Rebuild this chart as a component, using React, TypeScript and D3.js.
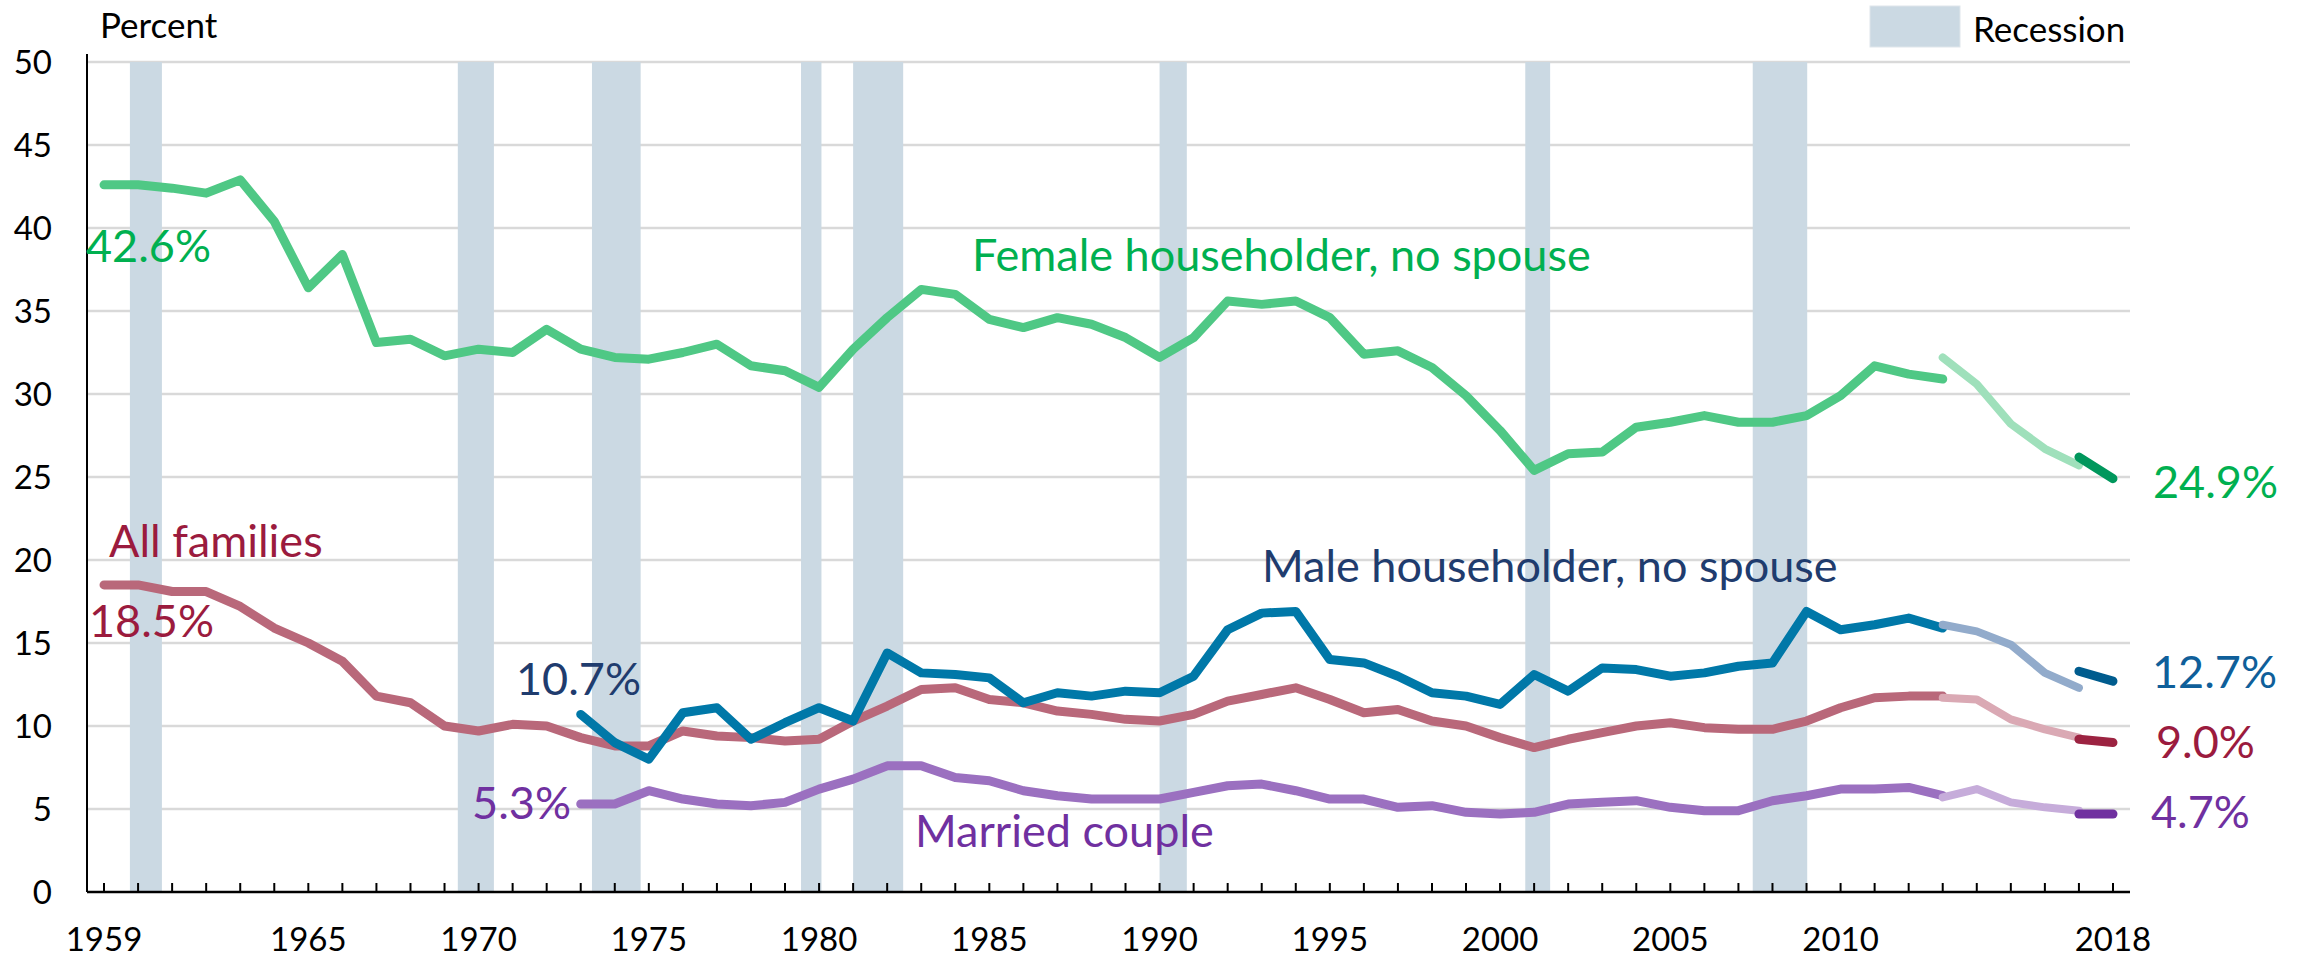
import React from 'react';
import * as d3 from 'd3';

// Years on the category axis
const years = [
    1959, 1960, 1961, 1962, 1963, 1964, 1965, 1966, 1967, 1968,
    1969, 1970, 1971, 1972, 1973, 1974, 1975, 1976, 1977, 1978,
    1979, 1980, 1981, 1982, 1983, 1984, 1985, 1986, 1987, 1988,
    1989, 1990, 1991, 1992, 1993, 1994, 1995, 1996, 1997, 1998,
    1999, 2000, 2001, 2002, 2003, 2004, 2005, 2006, 2007, 2008,
    2009, 2010, 2011, 2012, 2013, 2014, 2015, 2016, 2017, 2018,
];
const yearLabels = [1959, 1965, 1970, 1975, 1980, 1985, 1990, 1995, 2000, 2005, 2010, 2018];
const yTicks = [0, 5, 10, 15, 20, 25, 30, 35, 40, 45, 50];

const yearsFull = years.slice(0, 55);   // 1959-2013
const yearsSub = years.slice(14, 55);   // 1973-2013
const yearsBridge = [2013, 2014, 2015, 2016, 2017];
const yearsLatest = [2017, 2018];

// Percent in poverty
const femaleMain = [
    42.6, 42.6, 42.4, 42.1, 42.9, 40.4, 36.4, 38.4, 33.1, 33.3,
    32.3, 32.7, 32.5, 33.9, 32.7, 32.2, 32.1, 32.5, 33.0, 31.7,
    31.4, 30.4, 32.7, 34.6, 36.3, 36.0, 34.5, 34.0, 34.6, 34.2,
    33.4, 32.2, 33.4, 35.6, 35.4, 35.6, 34.6, 32.4, 32.6, 31.6,
    29.9, 27.8, 25.4, 26.4, 26.5, 28.0, 28.3, 28.7, 28.3, 28.3,
    28.7, 29.9, 31.7, 31.2, 30.9,
];
const femaleBridge = [32.2, 30.6, 28.2, 26.7, 25.7];
const femaleLatest = [26.2, 24.9];

const allMain = [
    18.5, 18.5, 18.1, 18.1, 17.2, 15.9, 15.0, 13.9, 11.8, 11.4,
    10.0, 9.7, 10.1, 10.0, 9.3, 8.8, 8.8, 9.7, 9.4, 9.3,
    9.1, 9.2, 10.3, 11.2, 12.2, 12.3, 11.6, 11.4, 10.9, 10.7,
    10.4, 10.3, 10.7, 11.5, 11.9, 12.3, 11.6, 10.8, 11.0, 10.3,
    10.0, 9.3, 8.7, 9.2, 9.6, 10.0, 10.2, 9.9, 9.8, 9.8,
    10.3, 11.1, 11.7, 11.8, 11.8,
];
const allBridge = [11.7, 11.6, 10.4, 9.8, 9.3];
const allLatest = [9.2, 9.0];

const maleMain = [
    10.7, 9.0, 8.0, 10.8, 11.1, 9.2, 10.2, 11.1, 10.3, 14.4,
    13.2, 13.1, 12.9, 11.4, 12.0, 11.8, 12.1, 12.0, 13.0, 15.8,
    16.8, 16.9, 14.0, 13.8, 13.0, 12.0, 11.8, 11.3, 13.1, 12.1,
    13.5, 13.4, 13.0, 13.2, 13.6, 13.8, 16.9, 15.8, 16.1, 16.5,
    15.9,
];
const maleBridge = [16.1, 15.7, 14.9, 13.2, 12.3];
const maleLatest = [13.3, 12.7];

const marriedMain = [
    5.3, 5.3, 6.1, 5.6, 5.3, 5.2, 5.4, 6.2, 6.8, 7.6,
    7.6, 6.9, 6.7, 6.1, 5.8, 5.6, 5.6, 5.6, 6.0, 6.4,
    6.5, 6.1, 5.6, 5.6, 5.1, 5.2, 4.8, 4.7, 4.8, 5.3,
    5.4, 5.5, 5.1, 4.9, 4.9, 5.5, 5.8, 6.2, 6.2, 6.3,
    5.8,
];
const marriedBridge = [5.7, 6.2, 5.4, 5.1, 4.9];
const marriedLatest = [4.7, 4.7];

// Recessions as [start, end] in axis years
const recessionStart = [1959.76, 1969.39, 1973.33, 1979.47, 1981.0, 1990.0, 2000.74, 2007.42];
const recessionEnd = [1960.7, 1970.45, 1974.76, 1980.07, 1982.47, 1990.8, 2001.47, 2009.02];

const FONT = "Lato, 'Open Sans', sans-serif";

const series = [
    { key: "all", x: yearsFull, main: allMain, bridge: allBridge, latest: allLatest, colors: ["#b9687a", "#daa9b4", "#9c2341"] },
    { key: "married", x: yearsSub, main: marriedMain, bridge: marriedBridge, latest: marriedLatest, colors: ["#9b70c0", "#c6acda", "#7030a0"] },
    { key: "male", x: yearsSub, main: maleMain, bridge: maleBridge, latest: maleLatest, colors: ["#0078a8", "#92abcb", "#005c8e"] },
    { key: "female", x: yearsFull, main: femaleMain, bridge: femaleBridge, latest: femaleLatest, colors: ["#4fc885", "#9fe0bb", "#00975c"] },
];

export default function App() {
    const width = 2305;
    const height = 959;

    const x = d3.scaleLinear().domain([1958.5, 2018.5]).range([87, 2130]);
    const y = d3.scaleLinear().domain([0, 50]).range([892, 62]);

    const line = d3.line<[number, number]>()
        .x(d => x(d[0]))
        .y(d => y(d[1]));

    const path = (xs: number[], vs: number[]) => line(xs.map((yr, i) => [yr, vs[i]] as [number, number])) || "";

    const [x0, x1] = x.range();

    return (
        <svg width={width} height={height} style={{ position: "absolute", left: 0, top: 0, background: "#fff" }}
            fontFamily={FONT}>
            {/* Grid */}
            {yTicks.filter(t => t > 0).map(t => (
                <line key={t} x1={x0} x2={x1} y1={y(t)} y2={y(t)} stroke="#d9d9d9" strokeWidth={2.5} />
            ))}

            {/* Recession bands */}
            {recessionStart.map((s, i) => (
                <rect key={i} x={x(s)} width={x(recessionEnd[i]) - x(s)} y={y(50)} height={y(0) - y(50)} fill="#cbd9e3" />
            ))}

            {/* Axes */}
            <line x1={x0} x2={x0} y1={54} y2={y(0)} stroke="#000" strokeWidth={2} />
            <line x1={x0} x2={x1} y1={y(0)} y2={y(0)} stroke="#000" strokeWidth={2.5} />
            {years.map(yr => (
                <line key={yr} x1={x(yr)} x2={x(yr)} y1={y(0)} y2={y(0) - 9} stroke="#000" strokeWidth={2} />
            ))}
            {yearLabels.map(yr => (
                <text key={yr} x={x(yr)} y={951} textAnchor="middle" fontSize={33} fill="#000">{yr}</text>
            ))}
            {yTicks.map(t => (
                <text key={t} x={52} y={y(t) + 12} textAnchor="end" fontSize={33} fill="#000">{t}</text>
            ))}
            <text x={100} y={38} fontSize={35} fill="#000">Percent</text>

            {/* Legend */}
            <rect x={1870} y={6} width={90} height={41} fill="#cbd9e3" stroke="#dfe6eb" strokeWidth={1} />
            <text x={1973} y={42} fontSize={35} fill="#000">Recession</text>

            {/* Lines */}
            {series.map(s => (
                <g key={s.key} fill="none" strokeLinecap="round" strokeLinejoin="round">
                    <path d={path(s.x, s.main)} stroke={s.colors[0]} strokeWidth={9} />
                    <path d={path(yearsBridge, s.bridge)} stroke={s.colors[1]} strokeWidth={8} />
                    <path d={path(yearsLatest, s.latest)} stroke={s.colors[2]} strokeWidth={9} />
                </g>
            ))}

            {/* Annotations */}
            <g fontSize={45}>
                <text x={86} y={262} fill="#00b050">42.6%</text>
                <text x={972} y={271} fill="#00b050">Female householder, no spouse</text>
                <text x={2153} y={498} fill="#00b050">24.9%</text>
                <text x={109} y={557} fill="#9b1b3e">All families</text>
                <text x={89} y={637} fill="#9b1b3e">18.5%</text>
                <text x={2156} y={758} fill="#9b1b3e">9.0%</text>
                <text x={516} y={695} fill="#1f3c6e">10.7%</text>
                <text x={1262} y={582} fill="#1f3c6e">Male householder, no spouse</text>
                <text x={2152} y={688} fill="#0f5f9a">12.7%</text>
                <text x={571} y={819} textAnchor="end" fill="#7030a0">5.3%</text>
                <text x={915} y={847} fill="#7030a0">Married couple</text>
                <text x={2151} y={828} fill="#7030a0">4.7%</text>
            </g>
        </svg>
    );
}
